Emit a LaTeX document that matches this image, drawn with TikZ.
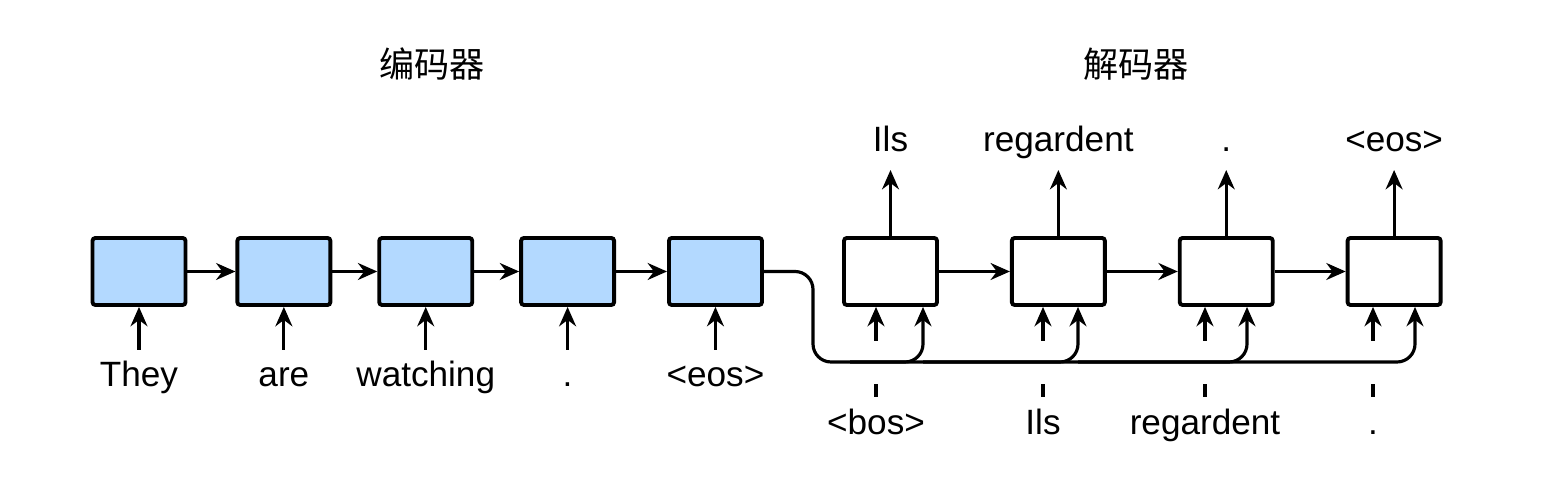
\documentclass[tikz,border=0pt]{standalone}
\usepackage{fontspec}
\setmainfont{Liberation Sans}
\newfontfamily\cjk{Noto Sans CJK SC}
\usepackage{tikz}
\usetikzlibrary{arrows.meta}
\usetikzlibrary{calc,positioning}
\definecolor{encblue}{RGB}{179,217,255}
\begin{document}
\begin{tikzpicture}[>={Stealth[length=5.5pt,width=4.8pt]}, line width=0.9pt,
    enc/.style={draw, line width=1.1pt, fill=encblue, rounded corners=0.8pt,
        minimum width=0.93cm, minimum height=0.67cm, inner sep=0pt},
    dec/.style={enc, fill=white},
    word/.style={inner sep=0pt, anchor=base},
    title/.style={inner sep=0pt, font=\cjk},
    node distance=0.5cm]

    \useasboundingbox (0,0) rectangle (15.59,5.03);

    % encoder
    \node[enc] (e1) at (1.39,2.315) {};
    \node[enc, right=0.48cm of e1] (e2) {};
    \node[enc, right=0.45cm of e2] (e3) {};
    \node[enc, right=0.45cm of e3] (e4) {};
    \node[enc, right=0.51cm of e4] (e5) {};
    \node[title] (enctitle) at (4.32,4.39) {编码器};

    \node[word] (they) at (e1 |- 0,1.16) {They};
    \node[word] (are) at (e2 |- 0,1.16) {are};
    \node[word] (watching) at (e3 |- 0,1.16) {watching};
    \node[word] (stop) at (e4 |- 0,1.16) {.};
    \node[word] (eos) at (e5 |- 0,1.16) {<eos>};

    \draw[->] (e1) -- (e2);
    \draw[->] (e2) -- (e3);
    \draw[->] (e3) -- (e4);
    \draw[->] (e4) -- (e5);

    \draw[->] ($(e1.south)+(0,-0.43)$) -- (e1.south);
    \draw[->] ($(e2.south)+(0,-0.43)$) -- (e2.south);
    \draw[->] ($(e3.south)+(0,-0.43)$) -- (e3.south);
    \draw[->] ($(e4.south)+(0,-0.43)$) -- (e4.south);
    \draw[->] ($(e5.south)+(0,-0.43)$) -- (e5.south);

    % decoder
    \node[dec] (d1) at (8.905,2.315) {};
    \node[dec, right=0.71cm of d1] (d2) {};
    \node[dec, right=0.71cm of d2] (d3) {};
    \node[dec, right=0.71cm of d3] (d4) {};
    \node[title] (dectitle) at (11.36,4.39) {解码器};

    \node[word] (ils) at (d1 |- 0,3.51) {Ils};
    \node[word] (regardent) at (d2 |- 0,3.51) {regardent};
    \node[word] (point) at (d3 |- 0,3.51) {.};
    \node[word] (outeos) at (d4 |- 0,3.51) {<eos>};

    \draw[->] (d1.north) -- ($(ils.base)+(0,-0.18)$);
    \draw[->] (d2.north) -- ($(regardent.base)+(0,-0.18)$);
    \draw[->] (d3.north) -- ($(point.base)+(0,-0.18)$);
    \draw[->] (d4.north) -- ($(outeos.base)+(0,-0.18)$);

    \draw[->] (d1) -- (d2);
    \draw[->] (d2) -- (d3);
    \draw[->] (d3) -- (d4);

    \node[word] (bos) at (8.76,0.68) {<bos>};
    \node[word] (inils) at (10.43,0.68) {Ils};
    \node[word] (inregardent) at (12.05,0.68) {regardent};
    \node[word] (inpoint) at (13.73,0.68) {.};

    \draw ($(bos.base)+(0,0.38)$) -- ++(0,0.13);
    \draw ($(inils.base)+(0,0.38)$) -- ++(0,0.13);
    \draw ($(inregardent.base)+(0,0.38)$) -- ++(0,0.13);
    \draw ($(inpoint.base)+(0,0.38)$) -- ++(0,0.13);

    \draw[->] ($(d1.south -| bos)+(0,-0.34)$) -- (d1.south -| bos);
    \draw[->] ($(d2.south -| inils)+(0,-0.34)$) -- (d2.south -| inils);
    \draw[->] ($(d3.south -| inregardent)+(0,-0.34)$) -- (d3.south -| inregardent);
    \draw[->] ($(d4.south -| inpoint)+(0,-0.34)$) -- (d4.south -| inpoint);

    % context
    \coordinate (ctx) at (8.13,1.41);
    \coordinate (c0) at (8.5,1.41);
    \coordinate (c1) at (9.23,1.41);
    \coordinate (c2) at (10.78,1.41);
    \coordinate (c3) at (12.47,1.41);
    \coordinate (c4) at (14.15,1.41);

    \draw[->, rounded corners=0.18cm] (e5.east) -| (ctx) -- (c4) -- (d4.south -| c4);
    \draw[->, rounded corners=0.18cm] (c0) -- (c1) -- (d1.south -| c1);
    \draw[->, rounded corners=0.18cm] (c1) -- (c2) -- (d2.south -| c2);
    \draw[->, rounded corners=0.18cm] (c2) -- (c3) -- (d3.south -| c3);

\end{tikzpicture}
\end{document}
